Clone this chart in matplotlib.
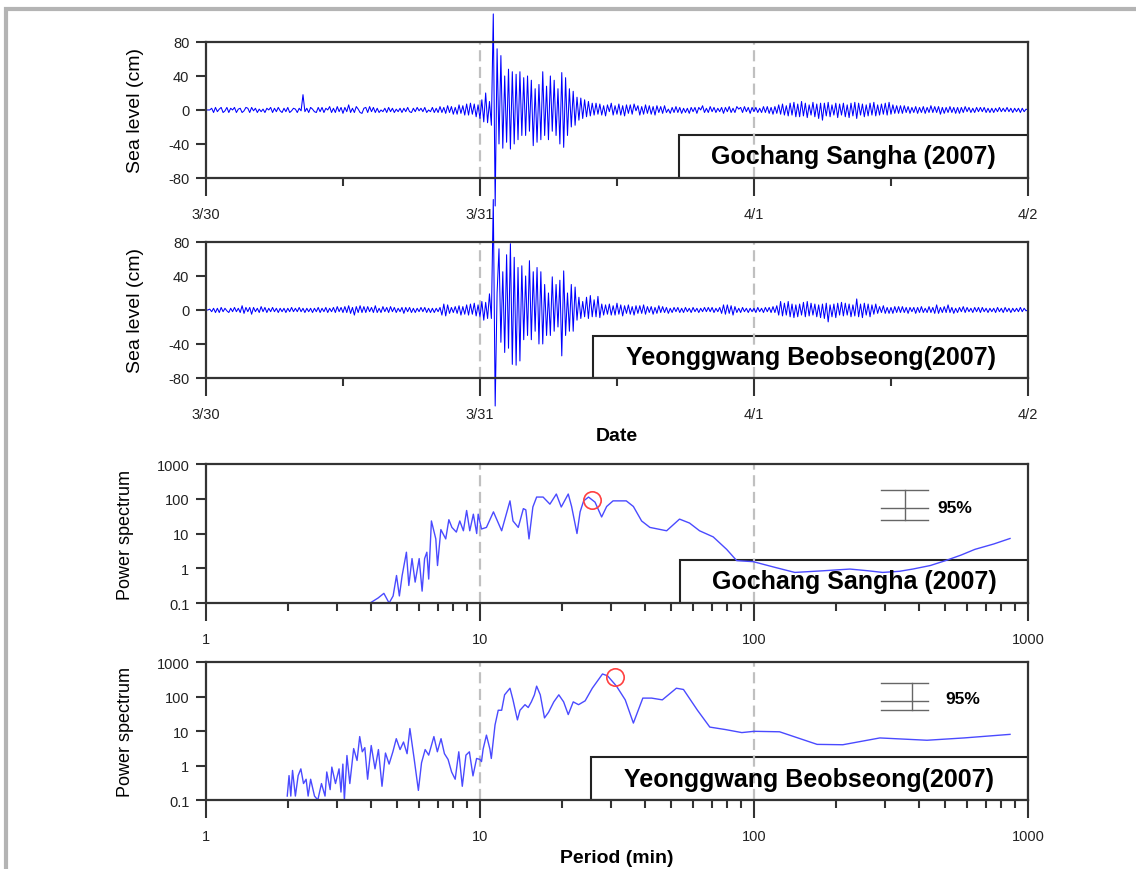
import matplotlib
matplotlib.use("Agg")
import matplotlib.pyplot as plt
import matplotlib.dates as mdates
from matplotlib.patches import Rectangle
from matplotlib.ticker import LogLocator, NullFormatter, NullLocator
import pandas as pd

plt.rcParams['font.family'] = ['Liberation Sans', 'DejaVu Sans']
plt.rcParams['axes.unicode_minus'] = False

# Sea level (cm), one value every 10 min from 2007-03-30 00:00, one row per hour
gochang_level = [
    0, 0, 0, 2, -3, 3,
    -2, 1, 3, -3, -1, 3,
    -3, 2, 0, 3, -3, 1,
    2, -3, -1, 3, 2, -3,
    3, -1, 2, -3, 1, -2,
    1, -3, 2, 0, 3, -3,
    2, -2, 3, -1, -3, 2,
    -2, 3, -3, -1, 2, 1,
    -3, 2, -1, 18, -2, 2,
    -3, 3, 1, -2, -3, 3,
    -2, 3, -3, 2, 0, 4,
    -3, 2, -3, 4, -2, 3,
    -4, 3, -2, 6, -3, 2,
    -3, 4, 1, -3, -4, 2,
    3, -3, 4, -2, 3, -3,
    2, -3, 0, -2, 2, -3,
    3, -2, 2, -3, 1, -2,
    2, -3, 2, -2, 3, -2,
    -3, 2, -2, 3, -1, 2,
    -2, 3, -3, 0, -2, 3,
    -3, 2, -3, 4, -3, 3,
    -4, 5, -3, 4, -5, 3,
    -5, 6, -4, 5, -6, 7,
    -6, 8, -5, 7, -8, 6,
    -10, 12, -14, 20, -15, 10,
    -18, 113, -113, 72, -40, 64,
    -45, 40, -38, 48, -46, 45,
    -40, 42, -35, 45, -30, 38,
    -30, 40, -25, 35, -42, 25,
    -38, 30, -35, 45, -30, 28,
    -35, 40, -25, 35, -30, 25,
    -40, 44, -44, 38, -30, 25,
    -20, 22, -18, 15, -12, 14,
    -10, 12, -8, 10, -7, 8,
    -6, 8, -5, 7, -6, 5,
    -7, 6, -2, 8, -6, 5,
    -5, 7, -6, 5, -7, 6,
    -4, 6, -5, 7, -1, 5,
    -6, 4, -5, 6, -4, 5,
    -5, 4, -6, 5, -3, 4,
    -4, 5, -3, 1, -4, 3,
    -3, 4, -3, 3, -4, 2,
    -3, 2, -4, 3, -2, 3,
    -4, 3, 0, 5, -3, 2,
    -3, 4, -2, 3, -3, 2,
    -2, 3, -4, 3, -2, 4,
    -3, 2, -3, 4, 1, 3,
    -3, 4, -2, 3, -4, 3,
    -2, 3, -3, 2, -3, 4,
    -3, 4, -4, 3, -5, 4,
    -4, 6, -5, 7, -6, 5,
    -7, 8, -6, 9, -8, 7,
    -8, 10, -7, 8, -9, 6,
    -6, 9, -8, 7, -10, 8,
    -12, 8, -7, 9, -8, 6,
    -6, 8, -9, 7, -6, 8,
    -8, 6, -9, 8, -7, 9,
    -10, 8, -6, 7, -8, 6,
    -7, 8, -6, 9, -7, 6,
    -6, 7, -5, 8, -6, 9,
    -5, 6, -4, 5, -4, 5,
    -4, 5, -3, 4, -4, 3,
    -3, 4, -4, 3, -3, 4,
    -4, 3, -3, 5, -3, 4,
    -3, 4, -5, 3, -4, 3,
    -3, 4, -3, 3, -4, 3,
    -4, 3, -3, 4, -2, 3,
    -3, 2, -3, 3, -2, 3,
    -2, 3, -3, 2, -3, 2,
    -3, 2, -2, 3, -2, 2,
    -2, 3, -2, 2, -3, 2,
    -2, 2, -3, 2, -2, 1,
    0,
]

yeonggwang_level = [
    0, 0, 1, -2, 2, -3,
    2, -3, 3, -2, 2, -1,
    -3, 2, -2, 3, -2, 2,
    -3, 5, -4, 3, -2, 3,
    -5, 3, -2, 2, -3, 4,
    -2, 3, -3, 2, -2, 3,
    -2, 2, -3, 2, -2, 2,
    -3, 2, -2, 3, -2, 2,
    -2, 3, -2, 2, -3, 2,
    -2, 2, -3, 2, -2, 3,
    -3, 2, -2, 3, -3, 2,
    -2, 3, -3, 4, -2, 3,
    -3, 4, -3, 5, -4, 3,
    -6, 4, -3, 5, -3, 4,
    -3, 4, -2, 3, -3, 5,
    -3, 2, -3, 4, -2, 3,
    -3, 4, -2, 3, -3, 2,
    -2, 3, -4, 3, -2, 3,
    -3, 2, -3, 2, -2, 3,
    -2, 3, -3, 2, -3, 2,
    -3, 2, -2, 3, -6, 7,
    -7, 6, -4, 3, -3, 4,
    -4, 5, -6, 4, -5, 6,
    -6, 7, -5, 8, -7, 6,
    -8, 10, -12, 9, -10, 19,
    -10, 130, -113, 20, 72, -38,
    45, -50, 65, -45, 78, -64,
    62, -65, 50, -60, 52, -35,
    40, -30, 58, -35, 45, -25,
    50, -40, 45, -40, 30, -30,
    20, -30, 39, -25, 30, -20,
    35, -54, 46, -30, 20, -25,
    30, -25, 27, -12, 15, -10,
    10, -8, 15, -10, 17, -8,
    12, -8, 16, -9, 7, -6,
    6, -5, 7, -6, 5, -6,
    8, -5, 6, -7, 5, -4,
    6, -5, 4, -6, 5, -4,
    5, -4, 6, -5, 4, -3,
    4, -5, 3, -4, 5, -3,
    4, -3, 3, -4, 2, -3,
    3, -2, 3, -3, 2, -3,
    3, -2, 2, -3, 3, -2,
    2, -3, 2, -2, 3, -2,
    3, -2, 3, -3, 2, -2,
    3, -4, 6, -5, 6, -4,
    5, -6, 4, -3, 2, -3,
    3, -2, 2, -3, 2, -2,
    2, -3, 3, -2, 2, -3,
    3, -2, 3, -3, 4, -3,
    5, -6, 10, -7, 8, -6,
    10, -8, 7, -9, 6, -8,
    7, -6, 9, -8, 10, -7,
    8, -6, 7, -8, 6, -9,
    7, -10, 8, -14, 6, -8,
    7, -9, 8, -6, 9, -7,
    8, -6, 7, -8, 6, -7,
    13, -8, 7, -9, 8, -6,
    7, -8, 6, -5, 7, -4,
    4, -3, 5, -4, 3, -4,
    3, -4, 4, -3, 4, -3,
    4, -3, 3, -4, 3, -2,
    3, -4, 3, -3, 4, -3,
    2, -3, 4, -3, 3, -4,
    6, -4, 3, -3, 4, -3,
    6, -3, 3, -4, 2, -3,
    3, -2, 4, -3, 3, -2,
    2, -3, 3, -2, 3, -3,
    3, -2, 2, -3, 2, -2,
    2, -3, 3, -2, 2, -3,
    3, -2, 2, -3, 2, -2,
    2, -2, 3, -2, 2, -1,
    0,
]

day_ticks = ["2007-03-30", "2007-03-31", "2007-04-01", "2007-04-02"]
day_labels = ["3/30", "3/31", "4/1", "4/2"]
half_day_ticks = ["2007-03-30 12:00", "2007-03-31 12:00", "2007-04-01 12:00"]
date_marks = ["2007-03-31", "2007-04-01"]

# Power spectra (period in min)
gochang_period = [4.01, 4.25, 4.46, 4.66, 4.82, 4.96, 5.08, 5.2, 5.39, 5.5, 5.65, 5.8,
                  6.0, 6.15, 6.28, 6.4, 6.5, 6.65, 6.9, 7.0, 7.2, 7.5, 7.7, 7.9, 8.2,
                  8.44, 8.7, 8.94, 9.18, 9.46, 9.73, 9.85, 10.13, 10.56, 11.2, 12.0,
                  12.87, 13.2, 13.8, 14.4, 14.7, 15.1, 15.6, 16.1, 17.0, 18.0, 19.0,
                  19.8, 21.0, 21.6, 22.6, 23.2, 23.9, 24.9, 26.3, 27.8, 29.0, 30.6,
                  34.2, 36.3, 38.9, 41.7, 48.0, 53.5, 58.2, 63.3, 71, 79.5, 86.5,
                  99.4, 120, 141, 180, 224, 260, 295, 340, 380, 440, 500, 570, 640,
                  750, 860]
gochang_power = [0.105, 0.14, 0.19, 0.1, 0.16, 0.62, 0.16, 0.62, 2.9, 0.32, 1.9, 0.4,
                 1.9, 0.22, 1.9, 2.9, 0.49, 23, 7, 1.2, 13, 7, 25, 15, 11,
                 23, 12, 46, 12, 36, 10, 36, 13.5, 15, 42, 12,
                 87, 23, 15, 52, 48, 7, 58, 112, 112, 70, 137,
                 58, 137, 60, 10, 42, 87, 112, 80, 30, 60, 87,
                 87, 60, 23, 15, 12, 26, 20, 12, 8, 3.5, 1.66,
                 1.55, 1.05, 0.76, 0.85, 0.95, 0.85, 0.76, 0.82, 0.95, 1.2, 1.66, 2.4, 3.5,
                 5.0, 7.2]

yeonggwang_period = [1.98, 2.01, 2.04, 2.07, 2.12, 2.17, 2.22, 2.27, 2.32, 2.36, 2.41,
                     2.49, 2.56, 2.64, 2.72, 2.76, 2.84, 2.88, 2.97, 3.06, 3.11, 3.16,
                     3.2, 3.27, 3.35, 3.46, 3.56, 3.64, 3.72, 3.80, 3.89, 4.01, 4.14,
                     4.26, 4.39, 4.52, 4.66, 4.81, 4.95, 5.11, 5.26, 5.42, 5.55, 5.75,
                     5.96, 6.12, 6.31, 6.5, 6.79, 6.99, 7.21, 7.42, 7.65, 7.88, 8.12,
                     8.37, 8.62, 8.89, 9.15, 9.43, 9.72, 10.0, 10.13, 10.27, 10.56,
                     10.87, 11.0, 11.35, 11.66, 12.0, 12.3, 12.87, 13.2, 13.7, 14.0,
                     14.6, 15.0, 15.4, 15.8, 16.1, 16.6, 17.2, 17.8, 18.6, 19.4, 20.2,
                     21.0, 21.9, 22.9, 24.2, 25.7, 28.0, 29.2, 31.5, 33.9, 36.3, 39.3,
                     42.3, 46.3, 52.1, 55.3, 62.2, 69.0, 78.8, 90.3, 100, 124, 170,
                     211, 288, 428, 584, 860]
yeonggwang_power = [0.13, 0.51, 0.13, 0.72, 0.13, 0.51, 0.8, 0.3, 0.4, 0.13, 0.4,
                    0.13, 0.1, 0.3, 0.13, 0.65, 0.2, 0.9, 0.3, 0.8, 0.17, 1.1,
                    0.1, 1.95, 0.3, 3.1, 1.4, 6.9, 2.5, 3.3, 0.4, 3.8, 0.8,
                    2.9, 0.25, 2.3, 1.1, 2.5, 6.0, 2.9, 4.8, 2.2, 11.8, 1.6,
                    0.19, 1.2, 2.9, 2.0, 6.9, 2.5, 6.0, 2.2, 1.5, 0.65, 0.4,
                    2.5, 0.25, 2.0, 2.5, 0.5, 1.6, 1.5, 1.3, 3.0, 7.6,
                    3.0, 1.6, 15, 40, 40, 112, 174, 80, 21, 40,
                    58, 48, 70, 112, 200, 112, 24, 35, 70, 112, 70,
                    30, 70, 58, 75, 174, 450, 400, 200, 80, 17, 90,
                    90, 80, 174, 160, 40, 13, 11, 9, 9.8, 9.5, 4.1,
                    4.0, 6.3, 5.4, 6.3, 8]

peak_period = [25.6, 31.1]
peak_power = [92, 365]

station_names = ["Gochang Sangha (2007)", "Yeonggwang Beobseong(2007)"]

spine_col = "#333333"
tick_col = "#222222"


def style_axes(ax):
    for s in ax.spines.values():
        s.set_color(spine_col)
        s.set_linewidth(1.6)
    ax.tick_params(axis="x", which="major", direction="out", length=13, width=1.5,
                   color=spine_col, pad=8, labelsize=10.5, labelcolor=tick_col, top=False)
    ax.tick_params(axis="x", which="minor", direction="out", length=6, width=1.5,
                   color=spine_col, top=False)
    ax.tick_params(axis="y", which="major", direction="out", length=7, width=1.5,
                   color=spine_col, pad=5, labelsize=10.5, labelcolor=tick_col, right=False)
    ax.tick_params(axis="y", which="minor", length=0, right=False)


def name_box(ax, left, height, name):
    ax.add_patch(Rectangle((left, 0), 1 - left, height, transform=ax.transAxes,
                           facecolor="white", edgecolor="#222222", lw=1.5, zorder=0.5))
    ax.text((1 + left) / 2, height / 2, name, transform=ax.transAxes, ha="center",
            va="center", fontsize=18, fontweight="bold", zorder=4)


def conf_bar(ax, x0, x1, xm, ys, tx, ty):
    for y in ys:
        ax.plot([x0, x1], [y, y], color="#666666", lw=1)
    ax.plot([xm, xm], [min(ys), max(ys)], color="#666666", lw=1)
    ax.text(tx, ty, "95%", fontsize=12.5, fontweight="bold", ha="left", va="center")


fig = plt.figure(figsize=(11.36, 8.70), dpi=100)

# outer frame of the original screenshot
fig.add_artist(Rectangle((0.0055, -0.2), 1.5, 1.1885, transform=fig.transFigure,
                         facecolor="none", edgecolor="#b4b4b4", lw=3))

ts_axes = [fig.add_axes([0.1813, 0.7943, 0.7236, 0.1563]),
           fig.add_axes([0.1813, 0.5644, 0.7236, 0.1563])]
ts_data = [gochang_level, yeonggwang_level]
ts_box = [(0.575, 0.316), (0.471, 0.31)]

for i, ax in enumerate(ts_axes):
    vals = ts_data[i]
    times = pd.date_range("2007-03-30 00:00", periods=len(vals), freq="10min")
    ax.plot(times.values, vals, color="#0000ff", lw=0.75, clip_on=False, zorder=2)
    for d in date_marks:
        ax.axvline(mdates.date2num(pd.Timestamp(d)), color="#c0c0c0", lw=1.6,
                   ls=(0, (5, 2.5)), zorder=1)
    ax.set_xlim(mdates.date2num(pd.Timestamp(day_ticks[0])),
                mdates.date2num(pd.Timestamp(day_ticks[-1])))
    ax.set_ylim(-80, 80)
    ax.set_yticks([-80, -40, 0, 40, 80])
    ax.set_xticks(mdates.date2num(pd.to_datetime(day_ticks)), day_labels)
    ax.set_xticks(mdates.date2num(pd.to_datetime(half_day_ticks)), minor=True)
    style_axes(ax)
    ax.set_ylabel("Sea level (cm)", fontsize=14)
    ax.yaxis.set_label_coords(-0.075, 0.5)
    name_box(ax, ts_box[i][0], ts_box[i][1], station_names[i])

ts_axes[1].set_xlabel("Date", fontsize=14, fontweight="bold", labelpad=4)

sp_axes = [fig.add_axes([0.1813, 0.3057, 0.7236, 0.1598]),
           fig.add_axes([0.1813, 0.0793, 0.7236, 0.1586])]
sp_data = [(gochang_period, gochang_power), (yeonggwang_period, yeonggwang_power)]
sp_box = [(0.577, 0.31), (0.468, 0.31)]

for i, ax in enumerate(sp_axes):
    per, pw = sp_data[i]
    ax.plot(per, pw, color="#4a4aff", lw=1.0, zorder=2)
    ax.plot(peak_period[i], peak_power[i], "o", ms=12.5, mfc="none", mec="#ff4040",
            mew=1.2, zorder=3)
    for p in [10, 100]:
        ax.axvline(p, color="#c0c0c0", lw=1.6, ls=(0, (5, 2.5)), zorder=1)
    ax.set_xscale("log")
    ax.set_yscale("log")
    ax.set_xlim(1, 1000)
    ax.set_ylim(0.1, 1000)
    ax.set_xticks([1, 10, 100, 1000], ["1", "10", "100", "1000"])
    ax.xaxis.set_minor_locator(LogLocator(base=10, subs=[2, 3, 4, 5, 6, 7, 8, 9]))
    ax.xaxis.set_minor_formatter(NullFormatter())
    ax.set_yticks([0.1, 1, 10, 100, 1000], ["0.1", "1", "10", "100", "1000"])
    ax.yaxis.set_minor_locator(NullLocator())
    style_axes(ax)
    ax.set_ylabel("Power spectrum", fontsize=13)
    ax.yaxis.set_label_coords(-0.0876, 0.5)
    name_box(ax, sp_box[i][0], sp_box[i][1], station_names[i])

conf_bar(sp_axes[0], 290, 433, 357, [178, 56, 25], 466, 56)
conf_bar(sp_axes[1], 290, 433, 377, [244, 76, 40.6], 498, 89)

sp_axes[1].set_xlabel("Period (min)", fontsize=14, fontweight="bold", labelpad=4)

fig.savefig("out.png", dpi=100)
